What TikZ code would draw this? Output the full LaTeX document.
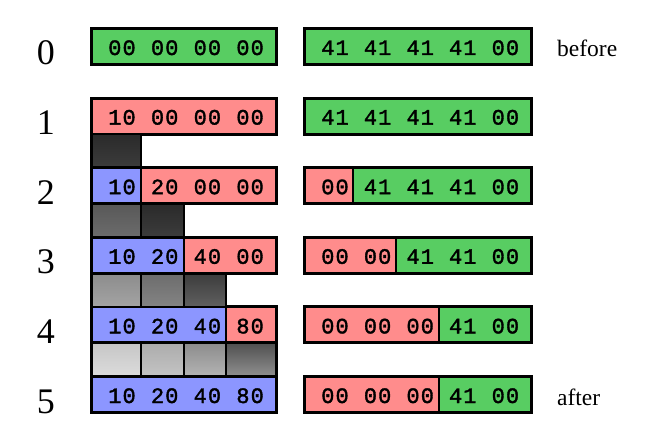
\documentclass[tikz,border=0pt]{standalone}
\usepackage{fontspec}
\setmainfont{Liberation Serif}
\newfontfamily\hexfont[LetterSpace=5,FakeBold=1.6]{Liberation Mono}
\definecolor{cgreen}{RGB}{88,205,98}
\definecolor{cpink}{RGB}{255,140,140}
\definecolor{cblue}{RGB}{140,150,255}
\tikzset{
  hex/.style={font=\hexfont\fontsize{22}{22}\selectfont, anchor=base, inner sep=0pt, text=black},
  rownum/.style={font=\fontsize{36}{36}\selectfont, anchor=base, inner sep=0pt},
  side/.style={font=\fontsize{23.5}{23.5}\selectfont, anchor=base west, inner sep=0pt},
  outline/.style={draw=black, line width=3pt},
  divider/.style={draw=black, line width=2pt},
  sq/.style={draw=black, line width=2.5pt},
}
\begin{document}
\begin{tikzpicture}[x=1pt,y=-1pt]
\useasboundingbox (0,0) rectangle (649,428);
% left boxes x 91.5..276.5, right 304.5..531.5
\foreach \r/\t/\lx/\rx in {0/28.5/91.5/304.5, 1/98.1/91.5/304.5, 2/167.7/141/353, 3/237.3/184/396, 4/306.9/226/439, 5/376.5/276.5/439}{
  \pgfmathsetmacro\b{\t+36}
  \ifnum\r=0
    \fill[cgreen] (91.5,\t) rectangle (276.5,\b);
  \else
    \fill[cblue] (91.5,\t) rectangle (\lx,\b);
    \fill[cpink] (\lx,\t) rectangle (276.5,\b);
    \draw[divider] (\lx,\t) -- (\lx,\b);
  \fi
  \draw[outline] (91.5,\t) rectangle (276.5,\b);
  \fill[cpink] (304.5,\t) rectangle (\rx,\b);
  \fill[cgreen] (\rx,\t) rectangle (531.5,\b);
  \draw[divider] (\rx,\t) -- (\rx,\b);
  \draw[outline] (304.5,\t) rectangle (531.5,\b);
  \pgfmathsetmacro\nb{\t+36.5}
  \node[rownum] (n\r) at (46,\nb) {\r};
}
% hex texts
\foreach \r/\t/\L/\R in {0/28.5/{00,00,00,00}/{41,41,41,41,00},
                         1/98.1/{10,00,00,00}/{41,41,41,41,00},
                         2/167.7/{10,20,00,00}/{00,41,41,41,00},
                         3/237.3/{10,20,40,00}/{00,00,41,41,00},
                         4/306.9/{10,20,40,80}/{00,00,00,41,00},
                         5/376.5/{10,20,40,80}/{00,00,00,41,00}}{
  \pgfmathsetmacro\bl{\t+26.5}
  \foreach \s [count=\c] in \L {
    \pgfmathsetmacro\xx{122+42.7*(\c-1)}
    \node[hex] (L\r-\c) at (\xx,\bl) {\s};
  }
  \foreach \s [count=\c] in \R {
    \pgfmathsetmacro\xx{335+42.6*(\c-1)}
    \node[hex] (R\r-\c) at (\xx,\bl) {\s};
  }
}
% gradient squares between rows
\def\cxa{91.5}\def\cxb{141}\def\cxc{184}\def\cxd{226}\def\cxe{276.5}
\definecolor{g1a}{RGB}{42,42,42}\definecolor{g1b}{RGB}{60,60,60}
\definecolor{g2a}{RGB}{88,88,88}\definecolor{g2b}{RGB}{108,108,108}
\definecolor{g3a}{RGB}{140,140,140}\definecolor{g3b}{RGB}{164,164,164}
\definecolor{g3c}{RGB}{108,108,108}\definecolor{g3d}{RGB}{132,132,132}
\definecolor{g3e}{RGB}{60,60,60}\definecolor{g3f}{RGB}{96,96,96}
\definecolor{g4a}{RGB}{198,198,198}\definecolor{g4b}{RGB}{220,220,220}
\definecolor{g4c}{RGB}{172,172,172}\definecolor{g4d}{RGB}{196,196,196}
\definecolor{g4e}{RGB}{140,140,140}\definecolor{g4f}{RGB}{180,180,180}
\definecolor{g4g}{RGB}{80,80,80}\definecolor{g4h}{RGB}{144,144,144}
\draw[sq, top color=g1a, bottom color=g1b] (\cxa,134.1) rectangle (\cxb,167.7);
\draw[sq, top color=g2a, bottom color=g2b] (\cxa,203.7) rectangle (\cxb,237.3);
\draw[sq, top color=g1a, bottom color=g1b] (\cxb,203.7) rectangle (\cxc,237.3);
\draw[sq, top color=g3a, bottom color=g3b] (\cxa,273.3) rectangle (\cxb,306.9);
\draw[sq, top color=g3c, bottom color=g3d] (\cxb,273.3) rectangle (\cxc,306.9);
\draw[sq, top color=g3e, bottom color=g3f] (\cxc,273.3) rectangle (\cxd,306.9);
\draw[sq, top color=g4a, bottom color=g4b] (\cxa,342.9) rectangle (\cxb,376.5);
\draw[sq, top color=g4c, bottom color=g4d] (\cxb,342.9) rectangle (\cxc,376.5);
\draw[sq, top color=g4e, bottom color=g4f] (\cxc,342.9) rectangle (\cxd,376.5);
\draw[sq, top color=g4g, bottom color=g4h] (\cxd,342.9) rectangle (\cxe,376.5);
\node[side] (before) at (557,56.5) {before};
\node[side] (after) at (557,405) {after};
\end{tikzpicture}
\end{document}
